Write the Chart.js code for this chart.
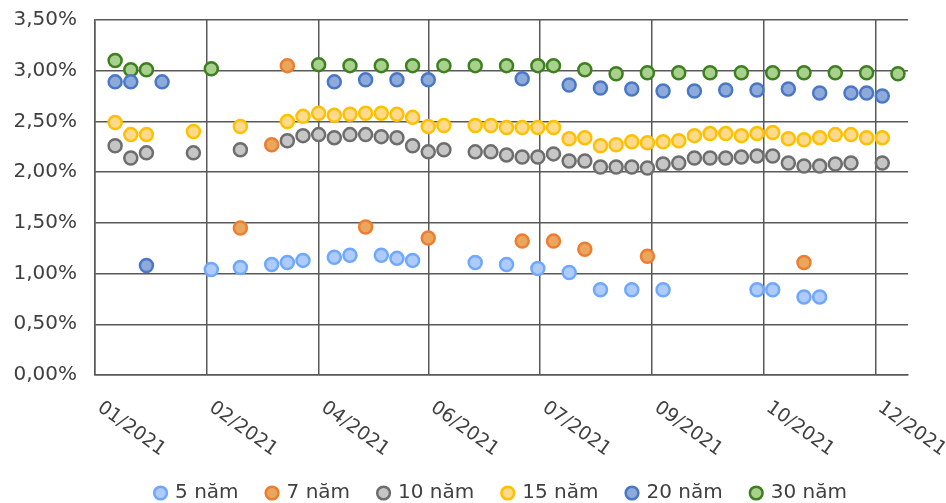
<!DOCTYPE html>
<html>
<head>
<meta charset="utf-8">
<script src="https://cdn.jsdelivr.net/npm/chart.js@4.4.1/dist/chart.umd.min.js"></script>
<style>
  html, body { margin: 0; padding: 0; background: #fff; }
  #wrap { width: 946px; height: 503px; position: relative; }
</style>
</head>
<body>
<div id="wrap"><canvas id="chart"></canvas></div>
<script>
// ngày phiên đấu thầu (số ngày tính từ mốc 01/2021 của trục)
const auctionDays = [
  9, 16, 23, 30, 37, 44, 52, 58, 65, 72,
  79, 86, 93, 100, 107, 114, 121, 128, 135, 142,
  149, 156, 163, 170, 177, 184, 191, 198, 205, 212,
  219, 226, 233, 240, 247, 254, 261, 268, 275, 282,
  289, 296, 303, 310, 317, 324, 331, 338, 345, 352,
  359,
];

const tickDays = [0, 50, 100, 149, 199, 249, 299, 349];
const tickLabels = ['01/2021', '02/2021', '04/2021', '06/2021', '07/2021', '09/2021', '10/2021', '12/2021'];

const _ = null;
// lãi suất trúng thầu (%)
const y5 = [
  _, _, _, _, _, _, 1.04, _, 1.06, _,
  1.09, 1.11, 1.13, _, 1.16, 1.18, _, 1.18, 1.15, 1.13,
  _, _, _, 1.11, _, 1.09, _, 1.05, _, 1.01,
  _, 0.84, _, 0.84, _, 0.84, _, _, _, _,
  _, 0.84, 0.84, _, 0.77, 0.77, _, _, _, _,
  _,
];
const y7 = [
  _, _, _, _, _, _, _, _, 1.45, _,
  2.27, 3.05, _, _, _, _, 1.46, _, _, _,
  1.35, _, _, _, _, _, 1.32, _, 1.32, _,
  1.24, _, _, _, 1.17, _, _, _, _, _,
  _, _, _, _, 1.11, _, _, _, _, _,
  _,
];
const y10 = [
  2.26, 2.14, 2.19, _, _, 2.19, _, _, 2.22, _,
  _, 2.31, 2.36, 2.37, 2.34, 2.37, 2.37, 2.35, 2.34, 2.26,
  2.20, 2.22, _, 2.20, 2.20, 2.17, 2.15, 2.15, 2.18, 2.11,
  2.11, 2.05, 2.05, 2.05, 2.04, 2.08, 2.09, 2.14, 2.14, 2.14,
  2.15, 2.16, 2.16, 2.09, 2.06, 2.06, 2.08, 2.09, _, 2.09,
  _,
];
const y15 = [
  2.49, 2.37, 2.37, _, _, 2.40, _, _, 2.45, _,
  _, 2.50, 2.55, 2.58, 2.56, 2.57, 2.58, 2.58, 2.57, 2.54,
  2.45, 2.46, _, 2.46, 2.46, 2.44, 2.44, 2.44, 2.44, 2.33,
  2.34, 2.26, 2.27, 2.30, 2.29, 2.30, 2.31, 2.36, 2.38, 2.38,
  2.36, 2.38, 2.39, 2.33, 2.32, 2.34, 2.37, 2.37, 2.34, 2.34,
  _,
];
const y20 = [
  2.89, 2.89, 1.08, 2.89, _, _, _, _, _, _,
  _, _, _, _, 2.89, _, 2.91, _, 2.91, _,
  2.91, _, _, _, _, _, 2.92, _, _, 2.86,
  _, 2.83, _, 2.82, _, 2.80, _, 2.80, _, 2.81,
  _, 2.81, _, 2.82, _, 2.78, _, 2.78, 2.78, 2.75,
  _,
];
const y30 = [
  3.10, 3.01, 3.01, _, _, _, 3.02, _, _, _,
  _, _, _, 3.06, _, 3.05, _, 3.05, _, 3.05,
  _, 3.05, _, 3.05, _, 3.05, _, 3.05, 3.05, _,
  3.01, _, 2.97, _, 2.98, _, 2.98, _, 2.98, _,
  2.98, _, 2.98, _, 2.98, _, 2.98, _, 2.98, _,
  2.97,
];

const series = [
  { label: '5 năm', values: y5, fill: '#aecbfa', line: '#6fa8ff' },
  { label: '7 năm', values: y7, fill: '#e9a75e', line: '#ed7d31' },
  { label: '10 năm', values: y10, fill: '#c6c6c6', line: '#6e6e6e' },
  { label: '15 năm', values: y15, fill: '#ffd98c', line: '#ffc000' },
  { label: '20 năm', values: y20, fill: '#8eaadb', line: '#4a78c6' },
  { label: '30 năm', values: y30, fill: '#a9d18e', line: '#3e7f1f' },
];

const FONT = '"DejaVu Sans", sans-serif';
const TEXT = '#404040';
const GRID = '#595959';

function toPoints(values) {
  return values
    .map((v, i) => (v === null ? null : { x: auctionDays[i], y: v }))
    .filter((p) => p !== null);
}

const xLabels = {
  id: 'xLabels',
  afterDraw(chart) {
    const { ctx } = chart;
    const xs = chart.scales.x;
    ctx.save();
    ctx.font = `19px ${FONT}`;
    ctx.fillStyle = TEXT;
    ctx.textAlign = 'left';
    ctx.textBaseline = 'top';
    tickDays.forEach((d, i) => {
      const px = xs.getPixelForValue(d);
      ctx.save();
      ctx.translate(px + 10, 398);
      ctx.rotate((36 * Math.PI) / 180);
      ctx.fillText(tickLabels[i], 0, 0);
      ctx.restore();
    });
    ctx.restore();
  },
};

new Chart(document.getElementById('chart'), {
  type: 'scatter',
  data: {
    datasets: series.map((s) => ({
      label: s.label,
      data: toPoints(s.values),
      backgroundColor: s.fill,
      borderColor: s.line,
      pointBackgroundColor: s.fill,
      pointBorderColor: s.line,
      pointBorderWidth: 2.5,
      borderWidth: 2.5,
      pointRadius: 6.5,
      pointHoverRadius: 6.5,
      showLine: false,
    })),
  },
  options: {
    responsive: true,
    maintainAspectRatio: false,
    animation: false,
    layout: { padding: { top: 20, right: 38, left: 0, bottom: -10 } },
    plugins: {
      tooltip: { enabled: false },
      legend: {
        position: 'bottom',
        fullSize: false,
        labels: {
          usePointStyle: true,
          pointStyle: 'circle',
          boxWidth: 9,
          boxHeight: 9,
          padding: 29,
          color: TEXT,
          font: { family: FONT, size: 20 },
        },
      },
    },
    scales: {
      x: {
        type: 'linear',
        min: 0,
        max: 363.5,
        afterBuildTicks: (s) => { s.ticks = tickDays.map((v) => ({ value: v })); },
        afterFit: (s) => { s.height = 79; },
        ticks: { display: false },
        grid: { color: GRID, lineWidth: 1.5, drawTicks: false },
        border: { color: GRID, width: 1.5 },
      },
      y: {
        min: 0,
        max: 3.5,
        afterFit: (s) => { s.width = 95; s.paddingTop = 0; s.paddingBottom = 0; },
        ticks: {
          stepSize: 0.5,
          padding: 18,
          color: TEXT,
          font: { family: FONT, size: 20 },
          callback: (v) => `${v.toFixed(2).replace('.', ',')}%`,
        },
        grid: { color: GRID, lineWidth: 1.5, drawTicks: false },
        border: { color: GRID, width: 1.5 },
      },
    },
  },
  plugins: [xLabels],
});
</script>
</body>
</html>
